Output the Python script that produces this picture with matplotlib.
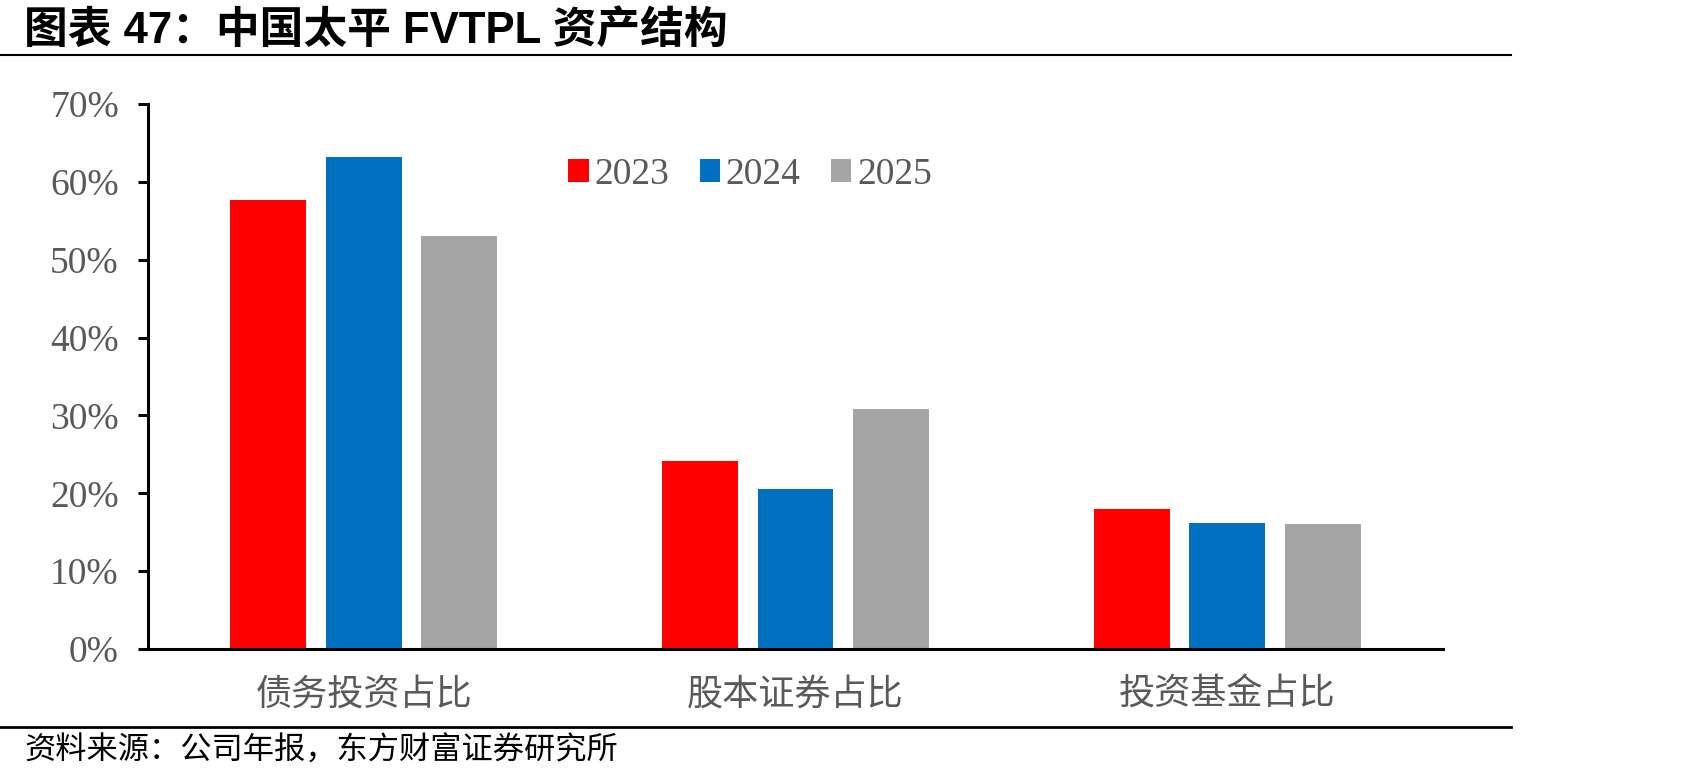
import matplotlib
matplotlib.use("Agg")
import matplotlib.pyplot as plt
import numpy as np
from matplotlib.ticker import FuncFormatter, MultipleLocator

categories = ["债务投资占比", "股本证券占比", "投资基金占比"]
years = ["2023", "2024", "2025"]
v2023 = [0.577, 0.241, 0.180]
v2024 = [0.632, 0.205, 0.162]
v2025 = [0.530, 0.308, 0.160]
colors = ["#FF0000", "#0070C0", "#A5A5A5"]

title = "图表 47：中国太平 FVTPL 资产结构"
source = "资料来源：公司年报，东方财富证券研究所"

W, H = 1701, 780
fig = plt.figure(figsize=(W / 100, H / 100), dpi=100)
ax = fig.add_axes([148 / W, 1 - 649 / H, (1443 - 148) / W, (649 - 104) / H])

x = np.arange(len(categories))
bw = 0.176
step = 0.221
for i, (vals, yr, c) in enumerate(zip([v2023, v2024, v2025], years, colors)):
    ax.bar(x + (i - 1) * step, vals, width=bw, color=c, label=yr, zorder=2)

ax.set_xlim(-0.5, 2.5)
ax.set_ylim(0, 0.7)
ax.yaxis.set_major_locator(MultipleLocator(0.1))
ax.yaxis.set_major_formatter(FuncFormatter(lambda v, p: f"{v*100:.0f}%"))

for s in ["top", "right"]:
    ax.spines[s].set_visible(False)
for s in ["left", "bottom"]:
    ax.spines[s].set_linewidth(2.2)
    ax.spines[s].set_color("black")

ax.tick_params(axis="y", direction="out", length=7, width=2.2, color="black",
               labelsize=27, labelcolor="#595959", pad=14)
for lab in ax.get_yticklabels():
    lab.set_fontfamily("Liberation Serif")

ax.set_xticks(x)
ax.set_xticklabels(categories, fontfamily=["Noto Sans CJK SC", "DejaVu Sans"],
                   fontsize=26, color="#595959")
ax.tick_params(axis="x", length=0, pad=20)

leg = ax.legend(loc="center", bbox_to_anchor=(0.465, 0.871), ncol=3, frameon=False,
                prop={"family": "Liberation Serif", "size": 27},
                handlelength=0.55, handleheight=0.55, handletextpad=0.15,
                columnspacing=0.8, borderpad=0)
for t in leg.get_texts():
    t.set_color("#595959")

fig.text(24 / W, 1 - 31 / H, title, fontsize=31.5, fontweight="bold",
         family=["Liberation Sans", "Noto Sans CJK SC"], va="center", ha="left")
fig.add_artist(plt.Line2D([0, 1511 / W], [1 - 55 / H, 1 - 55 / H], color="black", lw=1.5))
fig.add_artist(plt.Line2D([0, 1511 / W], [1 - 727 / H, 1 - 727 / H], color="black", lw=2))
fig.text(24 / W, 1 - 751 / H, source, fontsize=22.5,
         family=["Noto Sans CJK SC", "DejaVu Sans"], va="center", ha="left")

fig.savefig("out.png", dpi=100, facecolor="white")
